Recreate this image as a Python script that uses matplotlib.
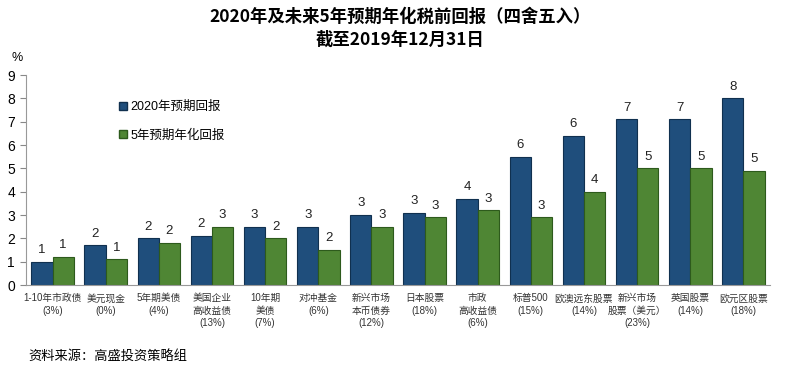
import math
import matplotlib
matplotlib.use("Agg")
import matplotlib.pyplot as plt
import numpy as np
from matplotlib.patches import Patch

plt.rcParams['font.family'] = ['Liberation Sans', 'Noto Sans CJK SC', 'DejaVu Sans']

categories = ["1-10年市政债\n(3%)", "美元现金\n(0%)", "5年期美债\n(4%)", "美国企业\n高收益债\n(13%)",
              "10年期\n美债\n(7%)", "对冲基金\n(6%)", "新兴市场\n本币债券\n(12%)", "日本股票\n(18%)",
              "市政\n高收益债\n(6%)", "标普500\n(15%)", "欧澳远东股票\n(14%)", "新兴市场\n股票（美元）\n(23%)",
              "英国股票\n(14%)", "欧元区股票\n(18%)"]
ret_2020 = [1.0, 1.7, 2.0, 2.1, 2.5, 2.5, 3.0, 3.1, 3.7, 5.5, 6.4, 7.1, 7.1, 8.0]
ret_5y = [1.2, 1.1, 1.8, 2.5, 2.0, 1.5, 2.5, 2.9, 3.2, 2.9, 4.0, 5.0, 5.0, 4.9]
series_names = ["2020年预期回报", "5年预期年化回报"]
title = "2020年及未来5年预期年化税前回报（四舍五入）\n截至2019年12月31日"
source = "资料来源：高盛投资策略组"

blue = "#1F4E7C"
blue_edge = "#10304F"
green = "#4F8634"
green_edge = "#2D5A1C"

fig = plt.figure(figsize=(8, 3.77), dpi=100)
ax = fig.add_axes([0.0325, 0.244, 0.93, 0.557])

x = np.arange(len(categories))
w = 0.4
b1 = ax.bar(x - w/2, ret_2020, w, color=blue, edgecolor=blue_edge, linewidth=0.8, label=series_names[0])
b2 = ax.bar(x + w/2, ret_5y, w, color=green, edgecolor=green_edge, linewidth=0.8, label=series_names[1])

def rnd(v):
    return str(int(math.floor(v + 0.5)))

for bars, vals in ((b1, ret_2020), (b2, ret_5y)):
    for r, v in zip(bars, vals):
        ax.annotate(rnd(v), (r.get_x() + r.get_width()/2, v), xytext=(0, 4),
                    textcoords="offset points", ha="center", va="bottom", fontsize=9.5, color="#222222")

ax.set_xlim(-0.5, len(categories) - 0.5)
ax.set_ylim(0, 9)
ax.set_yticks(range(0, 10))
ax.tick_params(axis='y', labelsize=10, length=4, color="#888888", direction='out', pad=4)
ax.tick_params(axis='x', length=0, labelsize=7.0, pad=6)
ax.set_xticks(x)
ax.set_xticklabels(categories, linespacing=1.3, color="#333333")
for s in ("top", "right"):
    ax.spines[s].set_visible(False)
for s in ("left", "bottom"):
    ax.spines[s].set_color("#999999")
    ax.spines[s].set_linewidth(0.8)

fig.text(0.015, 0.845, "%", fontsize=9, ha="left", va="center")
fig.text(0.5, 0.978, title, ha="center", va="top", fontsize=12.5, fontweight="bold", linespacing=1.3,
         family=['Liberation Sans Narrow', 'Noto Sans CJK SC', 'DejaVu Sans'])
fig.text(0.035, 0.055, source, ha="left", va="center", fontsize=9.5)

handles = [Patch(facecolor=blue, edgecolor=blue_edge), Patch(facecolor=green, edgecolor=green_edge)]
ax.legend(handles, series_names, loc="upper left", bbox_to_anchor=(0.11, 0.93), frameon=False,
          handlelength=0.6, handleheight=0.6, handletextpad=0.3, labelspacing=1.3, fontsize=9)

fig.savefig("out.png", dpi=100)
